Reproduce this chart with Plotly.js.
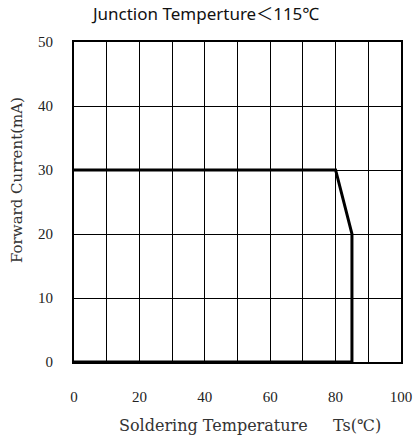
<!DOCTYPE html>
<html><head><meta charset="utf-8">
<script src="https://cdn.plot.ly/plotly-3.0.1.min.js"></script>
<style>body{margin:0;background:#fff}#c{width:418px;height:439px}</style>
</head><body><div id="c"></div>
<script>
var curveX = [0, 80, 85, 85, 0];
var curveY = [30, 30, 20, 0, 0];
var xTicks = [0, 20, 40, 60, 80, 100];
var yTicks = [0, 10, 20, 30, 40, 50];
var titleText = 'Junction Temperture＜115℃';
var xTitleText = 'Soldering Temperature&nbsp;&nbsp;&nbsp;&nbsp;&nbsp;Ts(℃)';
var yTitleText = 'Forward Current(mA)';
var serif = "Liberation Serif, serif";
var wideSerif = "DejaVu Serif, serif";
Plotly.newPlot('c', [{
  x: curveX, y: curveY, mode: 'lines', type: 'scatter',
  line: {color: '#000', width: 3}, hoverinfo: 'skip', cliponaxis: false
}], {
  width: 418, height: 439,
  margin: {l: 74, r: 17, t: 42, b: 77},
  paper_bgcolor: '#fff', plot_bgcolor: '#fff',
  showlegend: false,
  title: {text: titleText, x: 0.493, xanchor: 'center', y: 0.982, yanchor: 'top',
    font: {family: 'Noto Sans, Noto Sans CJK SC, sans-serif', size: 17, color: '#111'}},
  xaxis: {range: [0, 100], tickvals: xTicks, ticktext: xTicks.map(String),
    showgrid: true, gridcolor: '#000', gridwidth: 1, zeroline: false,
    showline: true, linecolor: '#000', linewidth: 2, mirror: true, ticks: '',
    minor: {dtick: 10, showgrid: true, gridcolor: '#000', gridwidth: 1},
    tickfont: {family: serif, size: 15, color: '#222'}, ticklabelstandoff: 20},
  yaxis: {range: [0, 50], tickvals: yTicks, ticktext: yTicks.map(String),
    showgrid: true, gridcolor: '#000', gridwidth: 1, zeroline: false,
    showline: true, linecolor: '#000', linewidth: 2, mirror: true, ticks: '',
    tickfont: {family: serif, size: 15, color: '#222'}, ticklabelstandoff: 16},
  annotations: [
    {text: xTitleText, xref: 'paper', yref: 'paper', x: (250 - 74) / 327, y: -(425 - 362) / 320,
     xanchor: 'center', yanchor: 'middle', showarrow: false,
     font: {family: wideSerif, size: 16, color: '#333'}},
    {text: yTitleText, xref: 'paper', yref: 'paper', x: (17 - 74) / 327, y: (362 - 180) / 320,
     xanchor: 'center', yanchor: 'middle', showarrow: false, textangle: -90,
     font: {family: wideSerif, size: 15, color: '#333'}}
  ]
}, {displayModeBar: false, staticPlot: true});
</script></body></html>
